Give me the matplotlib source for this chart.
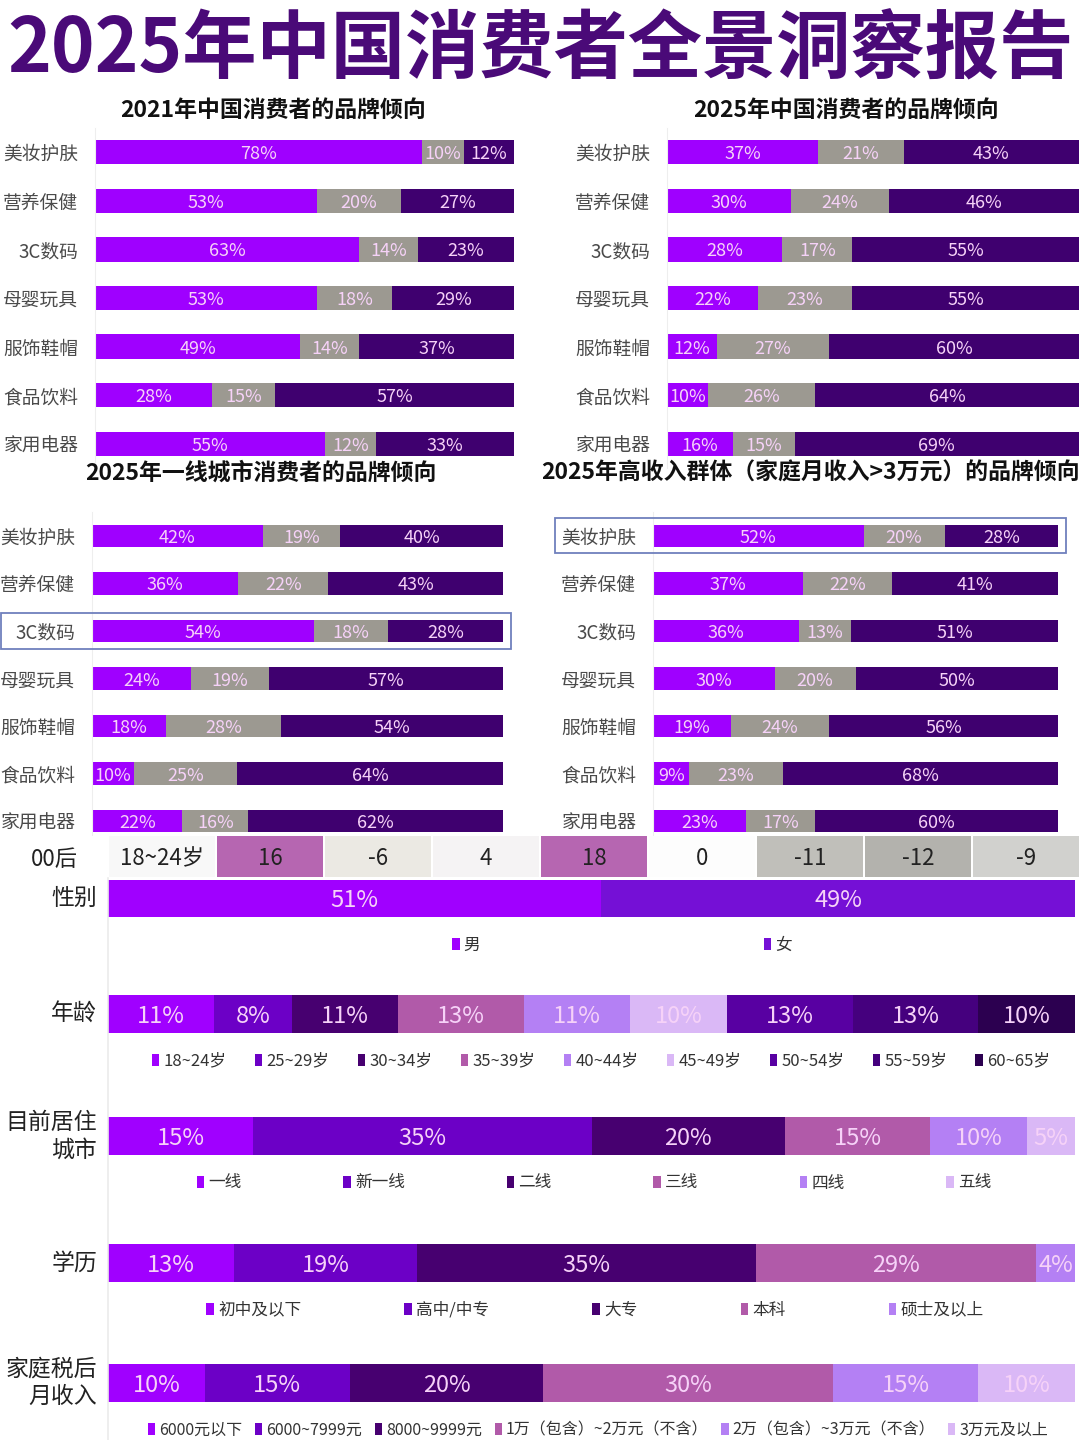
import matplotlib
matplotlib.use("Agg")
import matplotlib.pyplot as plt
from matplotlib.patches import Rectangle, Patch
from matplotlib.lines import Line2D
import numpy as np

plt.rcParams['font.family'] = ['Noto Sans CJK SC', 'DejaVu Sans']

W, H = 1080, 1440

# ---------------- data ----------------
main_title = "2025年中国消费者全景洞察报告"
categories = ["美妆护肤", "营养保健", "3C数码", "母婴玩具", "服饰鞋帽", "食品饮料", "家用电器"]

title_2021 = "2021年中国消费者的品牌倾向"
p2021_a = [78, 53, 63, 53, 49, 28, 55]
p2021_b = [10, 20, 14, 18, 14, 15, 12]
p2021_c = [12, 27, 23, 29, 37, 57, 33]

title_2025 = "2025年中国消费者的品牌倾向"
p2025_a = [37, 30, 28, 22, 12, 10, 16]
p2025_b = [21, 24, 17, 23, 27, 26, 15]
p2025_c = [43, 46, 55, 55, 60, 64, 69]

title_tier1 = "2025年一线城市消费者的品牌倾向"
tier1_a = [42, 36, 54, 24, 18, 10, 22]
tier1_b = [19, 22, 18, 19, 28, 25, 16]
tier1_c = [40, 43, 28, 57, 54, 64, 62]

title_rich = "2025年高收入群体（家庭月收入>3万元）的品牌倾向"
rich_a = [52, 37, 36, 30, 19, 9, 23]
rich_b = [20, 22, 13, 20, 24, 23, 17]
rich_c = [28, 41, 51, 50, 56, 68, 60]

table_cohort = "00后"
table_age = "18~24岁"
table_values = [16, -6, 4, 18, 0, -11, -12, -9]

gender_labels = ["男", "女"]
gender_values = [51, 49]
age_labels = ["18~24岁", "25~29岁", "30~34岁", "35~39岁", "40~44岁", "45~49岁", "50~54岁", "55~59岁", "60~65岁"]
age_values = [11, 8, 11, 13, 11, 10, 13, 13, 10]
city_labels = ["一线", "新一线", "二线", "三线", "四线", "五线"]
city_values = [15, 35, 20, 15, 10, 5]
edu_labels = ["初中及以下", "高中/中专", "大专", "本科", "硕士及以上"]
edu_values = [13, 19, 35, 29, 4]
income_labels = ["6000元以下", "6000~7999元", "8000~9999元", "1万（包含）~2万元（不含）", "2万（包含）~3万元（不含）", "3万元及以上"]
income_values = [10, 15, 20, 30, 15, 10]

# ---------------- styles ----------------
seg_colors = ["#9f00ff", "#9c9991", "#3f006f"]
bar_text = "#f6d2f8"
P1, P2, P3, P4, P5, P6 = "#a000ff", "#6c00c6", "#470070", "#b15aa9", "#b480f4", "#dab8f6"
gender_colors = [P1, "#7510d6"]
age_colors = [P1, P2, P3, P4, P5, P6, "#5800a2", "#45007e", "#2c0050"]
city_colors = [P1, P2, P3, P4, P5, P6]
edu_colors = [P1, P2, P3, P4, P5]
income_colors = [P1, P2, P3, P4, P5, P6]
cell_colors = ["#ffffff", "#f8f8f8", "#b666b1", "#ebe9e3", "#f5f3f4", "#b666b1",
               "#fdfdfd", "#c0bfba", "#b3b2ad", "#d1d1ce"]

fig = plt.figure(figsize=(W / 100, H / 100), dpi=100)
fig.patch.set_facecolor("white")


def rect(x0, y0, x1, y1):
    return [x0 / W, 1 - y1 / H, (x1 - x0) / W, (y1 - y0) / H]


def fx(x):
    return x / W


def fy(y):
    return 1 - y / H


fig.text(fx(540), fy(50), main_title, ha="center", va="center", fontsize=53.5,
         weight="heavy", color="#4a0a78")


def brand_panel(x0, x1, y0, y1, bh, title, tx, ty, a, b, c):
    ax = fig.add_axes(rect(x0, y0, x1, y1))
    ax.patch.set_alpha(0)
    y = np.arange(len(categories))
    tot = np.array(a, float) + np.array(b, float) + np.array(c, float)
    left = np.zeros(len(categories))
    for vals, col in zip([a, b, c], seg_colors):
        w = np.array(vals, dtype=float) / tot * 100
        ax.barh(y, w, left=left, height=bh, color=col)
        for yi, v, wi, l in zip(y, vals, w, left):
            ax.text(l + wi / 2, yi, f"{v}%", ha="center", va="center_baseline",
                    color=bar_text, fontsize=13)
        left += w
    ax.set_xlim(0, 100)
    ax.set_ylim(len(categories) - 0.5, -0.5)
    ax.set_yticks(y, categories)
    ax.tick_params(axis="y", length=0, pad=12, labelsize=13.5, labelcolor="#4a4a4a")
    ax.set_xticks([])
    for s in ["top", "right", "bottom"]:
        ax.spines[s].set_visible(False)
    ax.spines["left"].set_color("#eeeeee")
    fig.text(fx(tx), fy(ty), title, ha="center", va="center", fontsize=16.5,
             weight="bold", color="#111111")
    return ax


brand_panel(95, 514, 128, 468, 0.5, title_2021, 273, 110, p2021_a, p2021_b, p2021_c)
brand_panel(667, 1079, 128, 468, 0.5, title_2025, 846, 110, p2025_a, p2025_b, p2025_c)
brand_panel(92, 503, 512, 845, 0.47, title_tier1, 261, 473, tier1_a, tier1_b, tier1_c)
brand_panel(653, 1058, 512, 845, 0.47, title_rich, 810, 473, rich_a, rich_b, rich_c)

# highlight boxes
for (bx0, by0, bx1, by1) in [(1, 613, 511, 649), (555, 518, 1066, 553)]:
    fig.add_artist(Rectangle((fx(bx0), fy(by1)), (bx1 - bx0) / W, (by1 - by0) / H,
                             transform=fig.transFigure, fill=False,
                             edgecolor="#6f80bd", lw=1.3))

# ---------------- table row ----------------
axt = fig.add_axes(rect(0, 836, 1080, 877))
cols = np.arange(len(table_values) + 2)
axt.bar(cols, np.ones(len(cols)), width=0.985, color=cell_colors, bottom=0)
texts = [table_cohort, table_age] + [str(v) for v in table_values]
for xi, t in zip(cols, texts):
    axt.text(xi, 0.5, t, ha="center", va="center_baseline", fontsize=16, color="#222222")
axt.set_xlim(-0.5, len(cols) - 0.5)
axt.set_ylim(0, 1)
axt.axis("off")

# ---------------- bottom stacked bars ----------------
fig.add_artist(Line2D([fx(108), fx(108)], [0, fy(878)], transform=fig.transFigure,
                      color="#ebebeb", lw=1.2))


def demo_bar(ytop, ybot, name, labels, values, colors, leg_cx, leg_cs, leg_fs=12):
    ax = fig.add_axes(rect(108, ytop, 1075, ybot))
    left = 0
    handles = []
    for lab, v, col in zip(labels, values, colors):
        ax.barh(0, v, left=left, height=1, color=col)
        ax.text(left + v / 2, 0, f"{v}%", ha="center", va="center_baseline",
                color=bar_text, fontsize=17)
        left += v
        handles.append(Patch(facecolor=col, label=lab))
    ax.set_xlim(0, sum(values))
    ax.set_ylim(-0.5, 0.5)
    ax.axis("off")
    fig.text(fx(97), fy((ytop + ybot) / 2), name, ha="right", va="center",
             fontsize=16.5, color="#222222", linespacing=1.25)
    fig.legend(handles=handles, loc="center", ncol=len(labels),
               bbox_to_anchor=(fx(leg_cx), fy(ybot + 28)),
               frameon=False, fontsize=leg_fs, handlelength=0.45, handleheight=0.75,
               handletextpad=0.25, columnspacing=leg_cs, labelcolor="#333333",
               borderpad=0)


demo_bar(880, 917, "性别", gender_labels, gender_values, gender_colors, 622, 17.0)
demo_bar(995, 1033, "年龄", age_labels, age_values, age_colors, 601, 1.7)
demo_bar(1117, 1155, "目前居住\n城市", city_labels, city_values, city_colors, 594, 6.1)
demo_bar(1244, 1282, "学历", edu_labels, edu_values, edu_colors, 595, 6.2)
demo_bar(1364, 1402, "家庭税后\n月收入", income_labels, income_values, income_colors, 598, 0.8, 11.5)

fig.savefig("out.png", dpi=100, facecolor="white")
